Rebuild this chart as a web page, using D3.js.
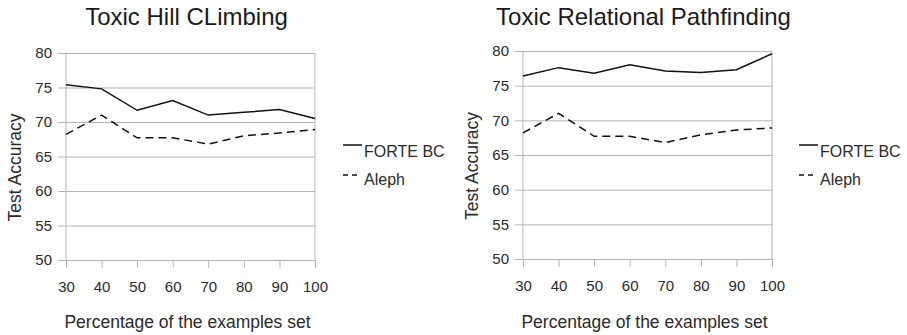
<!DOCTYPE html>
<html lang="en">
  <head>
    <meta charset="utf-8" />
    <title>Toxic accuracy</title>
    <style>
      body {
        margin: 0;
        background: #fff;
        font-family: "Liberation Sans", Arial, sans-serif;
      }
      svg {
        display: block;
      }
      .grid line {
        stroke: #b4b4b4;
        stroke-width: 1;
      }
      .tick text {
        fill: #2a2a2a;
      }
    </style>
  </head>
  <body>
    <svg width="907" height="335"></svg>

    <script src="https://d3js.org/d3.v7.min.js"></script>
    <script>
      // data
      const percentages = [30, 40, 50, 60, 70, 80, 90, 100];
      const yTicks = [50, 55, 60, 65, 70, 75, 80];
      const seriesNames = ["FORTE BC", "Aleph"];

      const hillForte = [75.4, 74.8, 71.7, 73.1, 71.0, 71.4, 71.8, 70.5];
      const hillAleph = [68.2, 71.0, 67.7, 67.7, 66.8, 68.0, 68.4, 68.9];
      const pathForte = [76.4, 77.6, 76.8, 78.0, 77.1, 76.9, 77.3, 79.6];
      const pathAleph = [68.2, 71.0, 67.7, 67.7, 66.8, 67.9, 68.6, 68.9];

      const svg = d3.select("svg");
      const dashes = [null, "8,5"];

      const panels = [
        {
          title: "Toxic Hill CLimbing",
          series: [hillForte, hillAleph],
          left: 66,
          right: 315,
          top: 53,
          bottom: 260,
          legendX: 343,
        },
        {
          title: "Toxic Relational Pathfinding",
          series: [pathForte, pathAleph],
          left: 523,
          right: 772,
          top: 51,
          bottom: 259,
          legendX: 799,
        },
      ];

      panels.forEach(drawPanel);

      function drawPanel(p) {
        const w = p.right - p.left;
        const x = d3.scaleLinear().domain([30, 100]).range([p.left, p.right]);
        const y = d3.scaleLinear().domain([50, 80]).range([p.bottom, p.top]);
        const g = svg.append("g");

        // horizontal grid + y labels (tick sticks out 8px to the left)
        const yAxis = g
          .append("g")
          .attr("class", "grid")
          .attr("transform", `translate(${p.left},0)`)
          .call(d3.axisLeft(y).tickValues(yTicks).tickSize(8).tickPadding(6));
        yAxis.select(".domain").remove();
        yAxis.selectAll(".tick line").attr("x1", -8).attr("x2", w);
        yAxis
          .selectAll(".tick text")
          .attr("font-size", 15)
          .attr("font-family", "Liberation Sans, Arial, sans-serif");

        // x ticks + labels
        const xAxis = g
          .append("g")
          .attr("class", "grid")
          .attr("transform", `translate(0,${p.bottom})`)
          .call(d3.axisBottom(x).tickValues(percentages).tickSize(8).tickPadding(13));
        xAxis.select(".domain").remove();
        xAxis
          .selectAll(".tick text")
          .attr("font-size", 15)
          .attr("font-family", "Liberation Sans, Arial, sans-serif");

        // side lines of the plot
        g.append("g")
          .attr("class", "grid")
          .selectAll("line")
          .data([p.left, p.right])
          .join("line")
          .attr("x1", (d) => d)
          .attr("x2", (d) => d)
          .attr("y1", p.top)
          .attr("y2", p.bottom);

        // the two series
        const line = d3
          .line()
          .x((d, i) => x(percentages[i]))
          .y((d) => y(d));

        p.series.forEach((vals, i) => {
          g.append("path")
            .datum(vals)
            .attr("d", line)
            .attr("fill", "none")
            .attr("stroke", "#111")
            .attr("stroke-width", 1.5)
            .attr("stroke-dasharray", dashes[i]);
        });

        // titles
        g.append("text")
          .attr("x", (p.left + p.right) / 2 - 4)
          .attr("y", 25)
          .attr("text-anchor", "middle")
          .attr("font-size", 24)
          .attr("fill", "#1a1a1a")
          .text(p.title);

        g.append("text")
          .attr("x", (p.left + p.right) / 2 - 3)
          .attr("y", 328)
          .attr("text-anchor", "middle")
          .attr("font-size", 17.5)
          .attr("fill", "#2a2a2a")
          .text("Percentage of the examples set");

        g.append("text")
          .attr(
            "transform",
            `translate(${p.left - 45},${(p.top + p.bottom) / 2 + 11}) rotate(-90)`
          )
          .attr("text-anchor", "middle")
          .attr("font-size", 17.5)
          .attr("fill", "#2a2a2a")
          .text("Test Accuracy");

        // legend
        const leg = g
          .append("g")
          .selectAll("g")
          .data(seriesNames)
          .join("g")
          .attr("transform", (d, i) => `translate(${p.legendX},${145 + i * 30})`);
        leg
          .append("line")
          .attr("x1", 0)
          .attr("x2", (d, i) => (i ? 16 : 19))
          .attr("stroke", "#111")
          .attr("stroke-width", 1.5)
          .attr("stroke-dasharray", (d, i) => (i ? "5,4" : null));
        leg
          .append("text")
          .attr("x", 21)
          .attr("y", (d, i) => (i ? 10 : 12))
          .attr("font-size", 16)
          .attr("fill", "#2a2a2a")
          .text((d) => d);
      }
    </script>
  </body>
</html>
